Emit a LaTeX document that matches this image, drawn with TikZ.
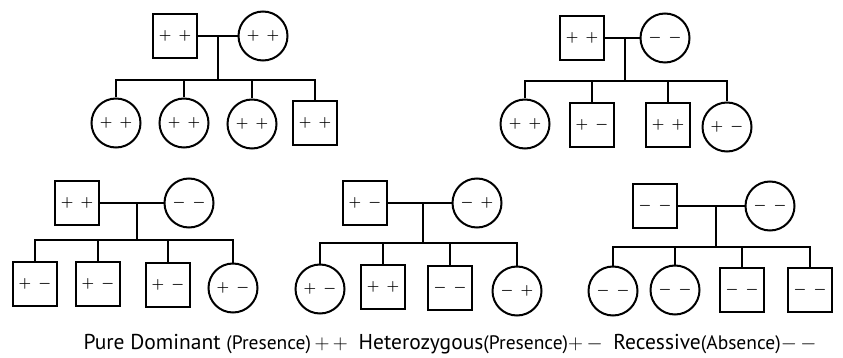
\documentclass[tikz,border=0pt]{standalone}
\usepackage{fontspec}
\usepackage{amsmath}
\usetikzlibrary{positioning}
\newfontfamily\legendfont{PT Sans}
\newcommand{\geno}[2]{$#1\enskip#2$}
\newcommand{\legsign}[2]{$#1\,#2$}

\begin{document}
\begin{tikzpicture}[x=1pt,y=-1pt,line width=2pt]
	\tikzstyle{male} = [draw, rectangle, minimum size=44pt, inner sep=0pt, font=\Large\boldmath]
	\tikzstyle{female} = [draw, circle, minimum size=49pt, inner sep=0pt, font=\Large\boldmath]
	\useasboundingbox (0,0) rectangle (843,358);

	% family top left
	\node [male] (fA) at (175,36) {\geno{+}{+}};
	\node [female] (mA) at (263,36) {\geno{+}{+}};
	\node [coordinate] (jA) at (218,36) {};
	\node [coordinate] (sA) at (218,80) {};
	\node [female] (a1) at (116,123) {\geno{+}{+}};
	\node [female] (a2) at (184,123) {\geno{+}{+}};
	\node [female] (a3) at (252,124) {\geno{+}{+}};
	\node [male] (a4) at (315,123) {\geno{+}{+}};

	% family top right
	\node [male] (fB) at (582,38) {\geno{+}{+}};
	\node [female] (mB) at (665,38) {\geno{-}{-}};
	\node [coordinate] (jB) at (625,38) {};
	\node [coordinate] (sB) at (625,81) {};
	\node [female] (b1) at (525,124) {\geno{+}{+}};
	\node [male] (b2) at (592,125) {\geno{+}{-}};
	\node [male] (b3) at (668,125) {\geno{+}{+}};
	\node [female] (b4) at (727,127) {\geno{+}{-}};

	% family bottom left
	\node [male] (fC) at (77,203) {\geno{+}{+}};
	\node [female] (mC) at (189,203) {\geno{-}{-}};
	\node [coordinate] (jC) at (137,203) {};
	\node [coordinate] (sC) at (137,240) {};
	\node [male] (c1) at (35,284) {\geno{+}{-}};
	\node [male] (c2) at (98,284) {\geno{+}{-}};
	\node [male] (c3) at (168,285) {\geno{+}{-}};
	\node [female] (c4) at (233,288) {\geno{+}{-}};

	% family bottom middle
	\node [male] (fD) at (365,203) {\geno{+}{-}};
	\node [female] (mD) at (477,203) {\geno{-}{+}};
	\node [coordinate] (jD) at (423,203) {};
	\node [coordinate] (sD) at (423,243) {};
	\node [female] (d1) at (320,289) {\geno{+}{-}};
	\node [male] (d2) at (383,287) {\geno{+}{+}};
	\node [male] (d3) at (450,288) {\geno{-}{-}};
	\node [female] (d4) at (517,291) {\geno{-}{+}};

	% family bottom right
	\node [male] (fE) at (655,206) {\geno{-}{-}};
	\node [female] (mE) at (770,206) {\geno{-}{-}};
	\node [coordinate] (jE) at (716,206) {};
	\node [coordinate] (sE) at (716,247) {};
	\node [female] (e1) at (613,291) {\geno{-}{-}};
	\node [female] (e2) at (675,290) {\geno{-}{-}};
	\node [male] (e3) at (742,290) {\geno{-}{-}};
	\node [male] (e4) at (810,290) {\geno{-}{-}};

	\node [font=\legendfont\fontsize{21.5}{23}\selectfont] (legend) at (450,344)
		{Pure Dominant {\fontsize{19.5}{21}\selectfont(Presence)}\,\legsign{+}{+}\enskip
		 Heterozygous{\fontsize{19.5}{21}\selectfont(Presence)}\legsign{+}{-}\enskip
		 Recessive{\fontsize{19.5}{21}\selectfont(Absence)}\legsign{-}{-}};

	\draw [-] (fA) -- (mA);
	\draw [-] (jA) -- (sA);
	\draw [-] (sA) -| (a1);
	\draw [-] (sA) -| (a2);
	\draw [-] (sA) -| (a3);
	\draw [-] (sA) -| (a4);

	\draw [-] (fB) -- (mB);
	\draw [-] (jB) -- (sB);
	\draw [-] (sB) -| (b1);
	\draw [-] (sB) -| (b2);
	\draw [-] (sB) -| (b3);
	\draw [-] (sB) -| (b4);

	\draw [-] (fC) -- (mC);
	\draw [-] (jC) -- (sC);
	\draw [-] (sC) -| (c1);
	\draw [-] (sC) -| (c2);
	\draw [-] (sC) -| (c3);
	\draw [-] (sC) -| (c4);

	\draw [-] (fD) -- (mD);
	\draw [-] (jD) -- (sD);
	\draw [-] (sD) -| (d1);
	\draw [-] (sD) -| (d2);
	\draw [-] (sD) -| (d3);
	\draw [-] (sD) -| (d4);

	\draw [-] (fE) -- (mE);
	\draw [-] (jE) -- (sE);
	\draw [-] (sE) -| (e1);
	\draw [-] (sE) -| (e2);
	\draw [-] (sE) -| (e3);
	\draw [-] (sE) -| (e4);
\end{tikzpicture}
\end{document}
